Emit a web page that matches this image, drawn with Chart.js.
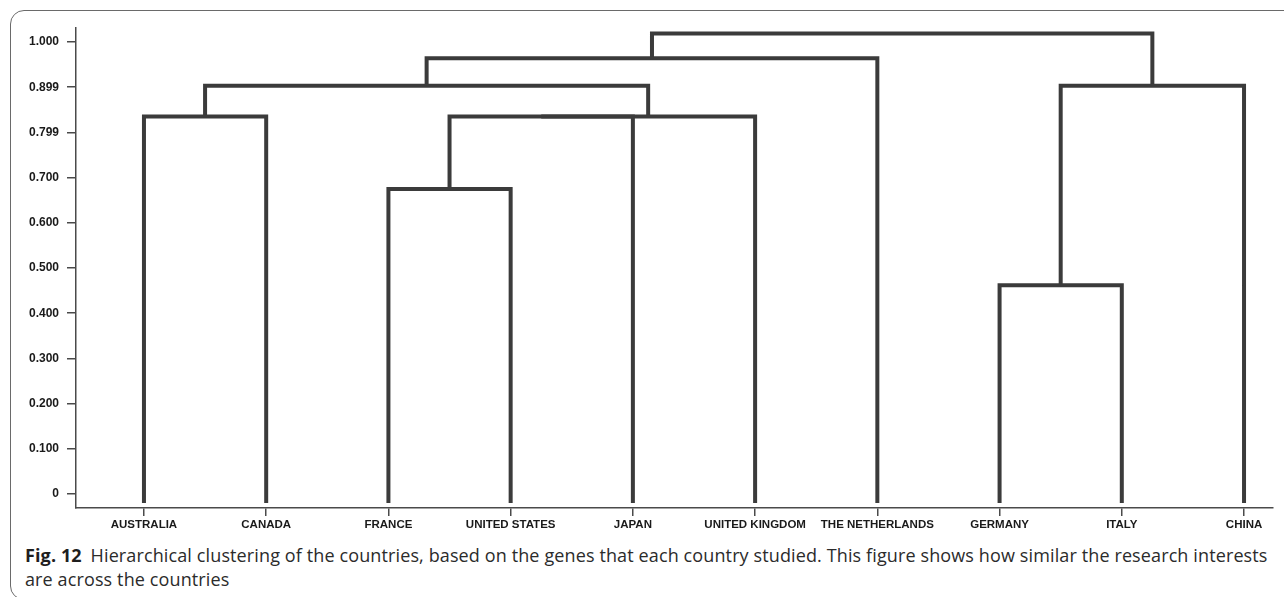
<!DOCTYPE html>
<html lang="en">
<head>
    <meta charset="UTF-8">
    <title>Fig. 12 - Hierarchical clustering of the countries</title>
    <script src="https://cdn.jsdelivr.net/npm/chart.js@4.4.1/dist/chart.umd.min.js"></script>
    <style>
        * {
            margin: 0;
            padding: 0;
            box-sizing: border-box;
        }

        body {
            width: 1284px;
            height: 597px;
            background: #fff;
            overflow: hidden;
            position: relative;
        }

        .frame {
            position: absolute;
            left: 10px;
            top: 10px;
            width: 1300px;
            height: 590px;
            border: 1.5px solid #6a6a6a;
            border-radius: 14px;
        }

        #dendro {
            position: absolute;
            left: 0;
            top: 0;
        }

        .caption {
            position: absolute;
            left: 25px;
            top: 543px;
            width: 1258px;
            font-family: 'Open Sans', sans-serif;
            font-size: 18px;
            line-height: 24px;
            color: #2b2b2b;
            letter-spacing: 0.12px;
            white-space: nowrap;
        }

        .caption b {
            font-weight: 700;
            color: #1e1e1e;
            margin-right: 4px;
        }
    </style>
</head>
<body>
    <div class="frame"></div>
    <canvas id="dendro" width="1284" height="540"></canvas>
    <div class="caption">
        <b>Fig. 12</b> Hierarchical clustering of the countries, based on the genes that each country studied. This figure shows how similar the research interests<br>
        are across the countries
    </div>

    <script>
        // leaves in plotted order
        const leaves = ['AUSTRALIA', 'CANADA', 'FRANCE', 'UNITED STATES', 'JAPAN',
            'UNITED KINGDOM', 'THE NETHERLANDS', 'GERMANY', 'ITALY', 'CHINA'];

        // merge steps: ids 0-9 are leaves, 10+ are earlier merges in this order
        const mergeLeft = [2, 10, 11, 0, 13, 14, 7, 16, 15];
        const mergeRight = [3, 4, 5, 1, 12, 6, 8, 9, 17];
        const mergeHeight = [0.675, 0.835, 0.835, 0.835, 0.903, 0.964, 0.462, 0.903, 1.019];

        // where the leaf stems start (just under 0)
        const leafBase = -0.02;

        // y axis ticks as printed
        const tickValues = [0, 0.1, 0.2, 0.3, 0.4, 0.5, 0.6, 0.7, 0.8, 0.9, 1.0];
        const tickLabels = ['0', '0.100', '0.200', '0.300', '0.400', '0.500',
            '0.600', '0.700', '0.799', '0.899', '1.000'];

        // position + height of every node
        const nodeX = leaves.map((_, i) => i);
        const nodeH = leaves.map(() => leafBase);
        const links = [];
        mergeHeight.forEach((h, i) => {
            const a = mergeLeft[i], b = mergeRight[i];
            links.push({
                label: 'merge ' + (i + 1),
                data: [
                    { x: nodeX[a], y: nodeH[a] },
                    { x: nodeX[a], y: h },
                    { x: nodeX[b], y: h },
                    { x: nodeX[b], y: nodeH[b] }
                ],
                showLine: true,
                borderColor: '#3b3b3b',
                borderWidth: 4,
                borderJoinStyle: 'miter',
                pointRadius: 0,
                fill: false
            });
            nodeX.push((nodeX[a] + nodeX[b]) / 2);
            nodeH.push(h);
        });

        const axisColor = '#4a4a4a';

        new Chart(document.getElementById('dendro'), {
            type: 'scatter',
            data: { datasets: links },
            options: {
                responsive: false,
                animation: false,
                layout: {
                    padding: { left: 0, top: 28, right: 11, bottom: 0 }
                },
                plugins: {
                    legend: { display: false },
                    tooltip: { enabled: false }
                },
                scales: {
                    x: {
                        type: 'linear',
                        min: -0.556,
                        max: 9.237,
                        afterBuildTicks: (scale) => {
                            scale.ticks = leaves.map((_, i) => ({ value: i }));
                        },
                        afterFit: (scale) => { scale.height = 32; },
                        border: { display: true, color: axisColor, width: 1.5 },
                        grid: {
                            drawOnChartArea: false,
                            drawTicks: true,
                            tickLength: 8,
                            color: axisColor,
                            lineWidth: 1.5
                        },
                        ticks: {
                            autoSkip: false,
                            maxRotation: 0,
                            padding: 2,
                            color: '#1a1a1a',
                            font: { family: 'Liberation Sans', size: 11.5, weight: 'bold' },
                            callback: (v) => leaves[v]
                        }
                    },
                    y: {
                        type: 'linear',
                        min: -0.031,
                        max: 1.031,
                        afterBuildTicks: (scale) => {
                            scale.ticks = tickValues.map(v => ({ value: v }));
                        },
                        afterFit: (scale) => { scale.width = 76; },
                        border: { display: true, color: axisColor, width: 1.5 },
                        grid: {
                            drawOnChartArea: false,
                            drawTicks: true,
                            tickLength: 9,
                            color: axisColor,
                            lineWidth: 1.5
                        },
                        ticks: {
                            padding: 8,
                            color: '#1a1a1a',
                            font: { family: 'Liberation Sans', size: 12, weight: 'bold' },
                            callback: (v) => {
                                const k = tickValues.findIndex(t => Math.abs(t - v) < 1e-6);
                                return k >= 0 ? tickLabels[k] : '';
                            }
                        }
                    }
                }
            }
        });
    </script>
</body>
</html>
